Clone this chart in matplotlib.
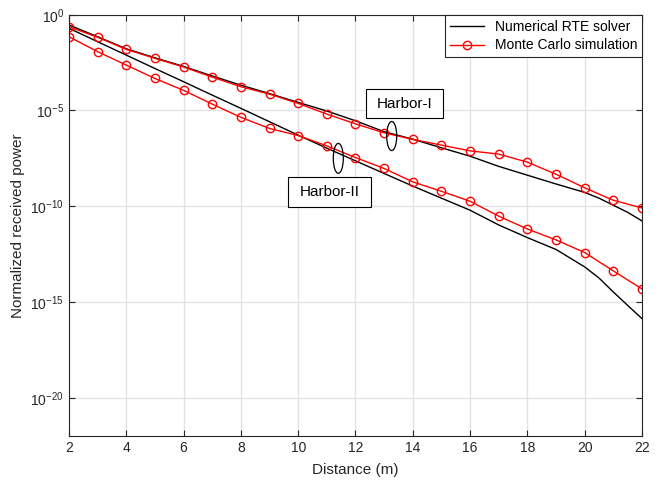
import numpy as np
import matplotlib.pyplot as plt
from matplotlib.patches import Ellipse, Rectangle
from matplotlib.ticker import LogFormatterSciNotation, NullLocator

plt.rcParams['font.family'] = ['Liberation Sans', 'DejaVu Sans']

# 距离 (m)
dist = [2, 3, 4, 5, 6, 7, 8, 9, 10, 11, 12, 13, 14, 15, 16, 17, 18, 19, 20, 21, 22]
# log10 of normalized received power
mc_h1 = [-0.63, -1.18, -1.81, -2.28, -2.73, -3.26, -3.76, -4.15, -4.63, -5.19, -5.70,
         -6.17, -6.51, -6.81, -7.11, -7.28, -7.70, -8.33, -9.04, -9.69, -10.09]
mc_h2 = [-1.15, -1.93, -2.63, -3.33, -3.95, -4.67, -5.36, -5.94, -6.31, -6.85, -7.46,
         -8.03, -8.73, -9.22, -9.74, -10.52, -11.19, -11.76, -12.42, -13.38, -14.32]

# RTE 曲线 (加密采样以显示末端弯曲)
rte_x = [2, 3, 4, 5, 6, 7, 8, 9, 10, 11, 12, 13, 14, 15, 16, 17, 18, 19, 20,
         20.5, 21, 21.5, 22]
rte_h1 = [-0.54, -1.15, -1.78, -2.25, -2.70, -3.20, -3.68, -4.12, -4.58, -5.03, -5.54,
          -6.11, -6.50, -6.95, -7.39, -7.92, -8.38, -8.84, -9.28, -9.58, -9.95, -10.32,
          -10.77]
rte_h2 = [-0.71, -1.41, -2.11, -2.81, -3.50, -4.20, -4.89, -5.59, -6.29, -6.97, -7.63,
          -8.29, -8.95, -9.58, -10.21, -10.98, -11.64, -12.26, -13.17, -13.75, -14.48,
          -15.18, -15.87]

fig = plt.figure(figsize=(6.59, 4.82), dpi=100)
ax = fig.add_axes([0.1047, 0.0954, 0.8695, 0.8741])

ax.plot(rte_x, 10.0 ** np.array(rte_h1), color='black', lw=1.0, label='Numerical RTE solver')
ax.plot(rte_x, 10.0 ** np.array(rte_h2), color='black', lw=1.0)
ax.plot(dist, 10.0 ** np.array(mc_h1), color='red', lw=1.0, marker='o', ms=6,
        mfc='none', mew=1.0, label='Monte Carlo simulation')
ax.plot(dist, 10.0 ** np.array(mc_h2), color='red', lw=1.0, marker='o', ms=6,
        mfc='none', mew=1.0)

ax.set_yscale('log')
ax.set_xlim(2, 22)
ax.set_ylim(1e-22, 1e0)
ax.set_xticks(np.arange(2, 23, 2))
ax.set_yticks([1e-20, 1e-15, 1e-10, 1e-5, 1e0])
ax.yaxis.set_major_formatter(LogFormatterSciNotation())
ax.yaxis.set_minor_locator(NullLocator())
ax.grid(True, color='#e3e3e3', lw=1.0)
ax.set_axisbelow(True)
ax.tick_params(direction='in', top=True, right=True, labelsize=10, colors='#262626',
               length=4)
for s in ax.spines.values():
    s.set_color('#262626')
ax.set_xlabel('Distance (m)', fontsize=11, color='#262626', labelpad=6)
ax.set_ylabel('Normalized received power', fontsize=11, color='#262626')
ax.yaxis.set_label_coords(-0.077, 0.5)

leg = ax.legend(loc='upper right', fontsize=10, borderaxespad=0, fancybox=False,
                edgecolor='#262626', framealpha=1, handlelength=2.4,
                labelspacing=0.35, borderpad=0.35)
leg.get_frame().set_linewidth(0.8)

# 标注框和椭圆
ax.add_patch(Rectangle((0.5178, 0.7548), 0.1354, 0.0681, transform=ax.transAxes,
                       fc='white', ec='black', lw=0.8, zorder=4))
ax.add_patch(Rectangle((0.3827, 0.5443), 0.1438, 0.0712, transform=ax.transAxes,
                       fc='white', ec='black', lw=0.8, zorder=4))
ax.text(0.5855, 0.7888, 'Harbor-I', transform=ax.transAxes, fontsize=11,
        ha='center', va='center', zorder=5)
ax.text(0.4546, 0.5799, 'Harbor-II', transform=ax.transAxes, fontsize=11,
        ha='center', va='center', zorder=5)
ax.add_patch(Ellipse((0.5632, 0.7120), 0.0175, 0.069, transform=ax.transAxes,
                     fc='none', ec='black', lw=0.9, zorder=4))
ax.add_patch(Ellipse((0.4700, 0.6591), 0.0175, 0.071, transform=ax.transAxes,
                     fc='none', ec='black', lw=0.9, zorder=4))

fig.savefig('out.png', dpi=100)
